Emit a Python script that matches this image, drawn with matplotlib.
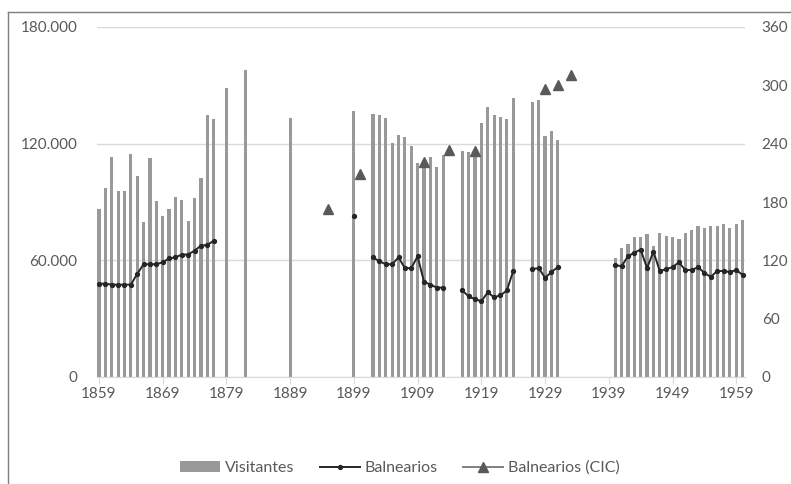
import matplotlib.pyplot as plt
import numpy as np
from matplotlib.lines import Line2D

plt.rcParams['font.family'] = ['Lato', 'DejaVu Sans']

# Visitantes (barras, eje izquierdo)
years_vis = (list(range(1859, 1878)) + [1879, 1882, 1889, 1899]
             + list(range(1902, 1914)) + list(range(1916, 1925))
             + list(range(1927, 1932)) + list(range(1940, 1961)))
visitantes = [86400, 97100, 113300, 95700, 95700, 114900, 103400, 79600, 112500, 90500,
              82700, 86400, 92400, 91000, 80400, 91900, 102500, 134800, 132700,
              148800, 157900, 133400, 137000,
              135400, 134700, 133400, 120200, 124300, 123300, 118800, 109900, 111600,
              113300, 107900, 114200,
              116300, 115900, 116000, 130800, 138700, 134800, 133500, 132500, 143400,
              141600, 142500, 124100, 126400, 121900,
              61400, 66500, 68200, 71900, 71900, 73600, 67400, 74200, 72700, 71900,
              71000, 74200, 75600, 77800, 76600, 77800, 77800, 78900, 76600, 78900, 80800]

# Balnearios (linea, eje derecho)
years_bal = (list(range(1859, 1878)) + [1899] + list(range(1902, 1914))
             + list(range(1916, 1925)) + list(range(1927, 1932)) + list(range(1940, 1961)))
balnearios = [96, 96, 95, 95, 95, 95, 106, 116, 116, 116, 118, 122, 123, 126, 126, 130, 135, 136, 140,
              166,
              123, 119, 116, 116, 123, 112, 112, 124, 98, 95, 92, 92,
              89, 83, 80, 78, 87, 82, 84, 89, 109,
              111, 112, 102, 108, 113,
              115, 114, 124, 128, 131, 112, 129, 109, 111, 113, 118, 110, 110, 113, 107,
              103, 109, 109, 108, 110, 105]

# Balnearios (CIC)
years_cic = [1895, 1900, 1910, 1914, 1918, 1929, 1931, 1933]
balnearios_cic = [173, 209, 221, 233, 232, 296, 300, 311]

x_ticks = list(range(1859, 1961, 10))

all_years = np.arange(1859, 1961)


def fill_years(years, values):
    out = np.full(len(all_years), np.nan)
    for y, v in zip(years, values):
        out[y - 1859] = v
    return out


text_col = '#595959'

fig = plt.figure(figsize=(7.91, 4.84), dpi=100)
ax = fig.add_axes([97 / 791, 107 / 484, 648 / 791, 350 / 484])
ax2 = ax.twinx()

ax.bar(years_vis, visitantes, width=0.5, color='#999999', zorder=2, label='Visitantes')
ax2.plot(all_years, fill_years(years_bal, balnearios), color='#262626', lw=1.4,
         marker='o', ms=2.8, label='Balnearios')
ax2.plot(all_years, fill_years(years_cic, balnearios_cic), color='#7f7f7f', lw=1.4,
         marker='^', ms=7.5, mfc='#595959', mec='#595959', label='Balnearios (CIC)')

ax.set_xlim(1858.69, 1960.37)
ax.set_ylim(0, 180000)
ax2.set_ylim(0, 360)
ax.set_yticks([0, 60000, 120000, 180000])
ax.set_yticklabels(['0', '60.000', '120.000', '180.000'])
ax2.set_yticks(range(0, 361, 60))
ax.set_xticks(x_ticks)

ax.grid(axis='y', color='#d9d9d9', lw=1, zorder=0)
ax.set_axisbelow(True)
for a in (ax, ax2):
    for s in a.spines.values():
        s.set_visible(False)
ax.spines['bottom'].set_visible(True)
ax.spines['bottom'].set_color('#d9d9d9')
ax.tick_params(axis='y', length=0, pad=14, labelsize=11, labelcolor=text_col)
ax2.tick_params(axis='y', length=0, pad=12, labelsize=11, labelcolor=text_col)
ax.tick_params(axis='x', length=5, color='#d9d9d9', pad=2, labelsize=11, labelcolor=text_col)

h1, l1 = ax.get_legend_handles_labels()
h2, l2 = ax2.get_legend_handles_labels()
fig.legend(h1 + h2, l1 + l2, loc='center', bbox_to_anchor=(400 / 791, 16 / 484), ncol=3,
           frameon=False, fontsize=11.5, labelcolor=text_col, handlelength=2.5,
           columnspacing=1.6, handletextpad=0.3)

# marco del grafico
fig.add_artist(Line2D([8 / 791, 8 / 791], [0, 1 - 12 / 484], color='#7f7f7f', lw=1))
fig.add_artist(Line2D([8 / 791, 1], [1 - 12 / 484, 1 - 12 / 484], color='#7f7f7f', lw=1))

fig.savefig('out.png', dpi=100)
